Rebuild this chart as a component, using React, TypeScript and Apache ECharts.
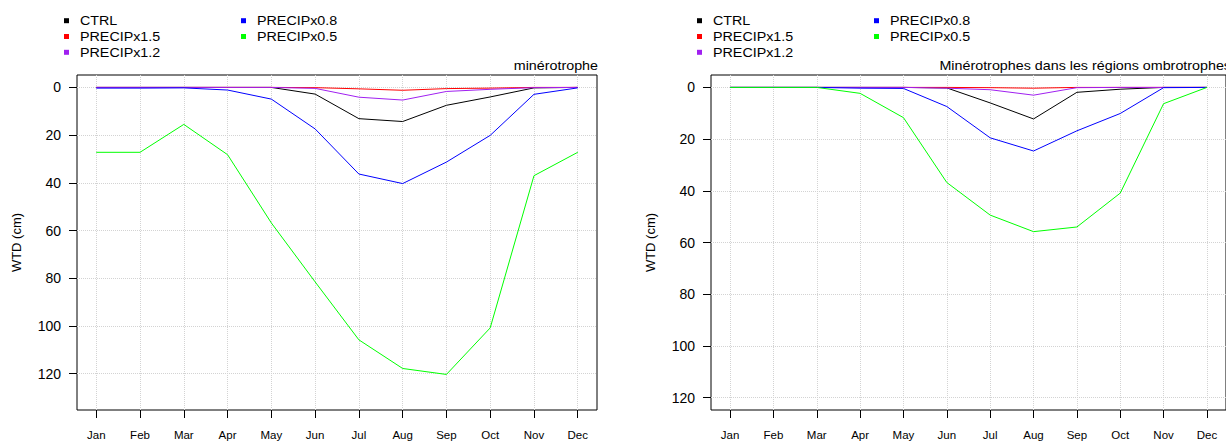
import React, { useEffect, useRef } from 'react';
import * as echarts from 'echarts';

const months = ['Jan', 'Feb', 'Mar', 'Apr', 'May', 'Jun', 'Jul', 'Aug', 'Sep', 'Oct', 'Nov', 'Dec'];
const seriesNames = ['CTRL', 'PRECIPx1.5', 'PRECIPx1.2', 'PRECIPx0.8', 'PRECIPx0.5'];
const seriesColors = ['#000000', '#ff0000', '#a020f0', '#0000ff', '#00ff00'];
const yTicks = [0, 20, 40, 60, 80, 100, 120];
const panelTitles = ['minérotrophe', 'Minérotrophes dans les régions ombrotrophes'];
const yAxisTitle = 'WTD (cm)';

// Left panel: minérotrophe
const ctrlMin = [0, 0, 0, 0, 0, 2.8, 13.1, 14.3, 7.5, 4.0, 0.2, 0];
const p15Min = [0, 0, 0, 0, 0, 0.1, 0.6, 1.2, 0.5, 0.3, 0, 0];
const p12Min = [0, 0, 0, 0, 0, 0.4, 4.1, 5.3, 1.7, 0.8, 0.1, 0];
const p08Min = [0.3, 0.3, 0.2, 1.1, 4.9, 17.4, 36.3, 40.3, 31.3, 20.1, 2.9, 0.2];
const p05Min = [27.2, 27.2, 15.5, 28.2, 56.8, 81.5, 105.8, 117.8, 120.3, 100.8, 37.0, 27.2];

// Right panel: minérotrophes dans les régions ombrotrophes
const ctrlOmb = [0, 0, 0, 0, 0, 0.2, 6.0, 12.2, 1.9, 0.7, 0, 0];
const p15Omb = [0, 0, 0, 0, 0, 0, 0.1, 0.3, 0, 0, 0, 0];
const p12Omb = [0, 0, 0, 0, 0, 0.3, 0.9, 3.0, 0.1, 0, 0, 0];
const p08Omb = [0, 0, 0, 0.3, 0.4, 7.4, 19.5, 24.6, 16.8, 10.1, 0.1, 0];
const p05Omb = [0, 0, 0, 2.3, 11.7, 36.8, 49.4, 55.8, 54.0, 40.9, 6.3, 0];

const panels = [
  { values: [ctrlMin, p15Min, p12Min, p08Min, p05Min], yMin: -5.2, yMax: 135.2 },
  { values: [ctrlOmb, p15Omb, p12Omb, p08Omb, p05Omb], yMin: -4.8, yMax: 124.8 },
];

const FONT = 'Liberation Sans, Arial, Helvetica, sans-serif';

export default function App() {
  const ref = useRef<HTMLDivElement>(null);

  useEffect(() => {
    if (!ref.current) return;
    const chart = echarts.init(ref.current, null, { renderer: 'svg' });
    const monthPos = months.map((_, i) => i + 1);

    const gridLefts = [77, 711];
    const grids = gridLefts.map((left) => ({
      left,
      top: 75,
      width: 520,
      height: 336,
      show: true,
      borderColor: '#000',
      borderWidth: 1,
      backgroundColor: 'transparent',
    }));

    const xAxes = panels.map((_, p) => ({
      type: 'value',
      gridIndex: p,
      position: 'bottom',
      min: 0.56,
      max: 12.44,
      axisLine: { show: false, onZero: false },
      axisTick: { show: true, length: 8, customValues: monthPos, lineStyle: { color: '#000' } },
      axisLabel: {
        customValues: monthPos,
        formatter: (v: number) => months[Math.round(v) - 1] ?? '',
        margin: 19,
        fontSize: 11.5,
        color: '#000',
        fontFamily: FONT,
      },
      splitLine: { show: true, lineStyle: { color: '#d3d3d3', type: 'dotted', width: 1 } },
    }));

    const yAxes = panels.map((pn, p) => ({
      type: 'value',
      gridIndex: p,
      position: 'left',
      inverse: true,
      min: pn.yMin,
      max: pn.yMax,
      name: yAxisTitle,
      nameLocation: 'middle',
      nameGap: 54,
      nameTextStyle: { fontSize: 13, color: '#000', fontFamily: FONT },
      axisLine: { show: false, onZero: false },
      axisTick: { show: true, length: 8, customValues: yTicks, lineStyle: { color: '#000' } },
      axisLabel: { customValues: yTicks, margin: 16, fontSize: 14, color: '#000', fontFamily: FONT },
      splitLine: { show: true, lineStyle: { color: '#d3d3d3', type: 'dotted', width: 1 } },
    }));

    const series: any[] = [];
    panels.forEach((pn, p) => {
      pn.values.forEach((vals, i) => {
        series.push({
          type: 'line',
          name: seriesNames[i],
          xAxisIndex: p,
          yAxisIndex: p,
          data: vals.map((v, k) => [monthPos[k], v]),
          symbol: 'none',
          silent: true,
          lineStyle: { color: seriesColors[i], width: 1 },
          itemStyle: { color: seriesColors[i] },
          z: 2 + i,
        });
      });
    });

    // legends + titles
    const graphic: any[] = [];
    const legendOffsets = [0, 633];
    const rowsY = [20.7, 36.5, 52.3];
    const colLayout = [
      { sq: 64, tx: 80, items: [0, 1, 2] },
      { sq: 241, tx: 257, items: [3, 4] },
    ];
    legendOffsets.forEach((off) => {
      colLayout.forEach((col) => {
        col.items.forEach((si, r) => {
          graphic.push({
            type: 'rect',
            shape: { x: col.sq + off, y: rowsY[r] - 2.5, width: 5, height: 5 },
            style: { fill: seriesColors[si] },
            silent: true,
          });
          graphic.push({
            type: 'text',
            x: col.tx + off,
            y: rowsY[r],
            scaleX: 1.1,
            style: {
              text: seriesNames[si],
              fontSize: 13,
              fontFamily: FONT,
              fill: '#000',
              textAlign: 'left',
              textVerticalAlign: 'middle',
            },
            silent: true,
          });
        });
      });
    });
    const titleRights = [598, 1231];
    titleRights.forEach((xr, p) => {
      graphic.push({
        type: 'text',
        x: xr,
        y: 66,
        scaleX: 1.1,
        style: {
          text: panelTitles[p],
          fontSize: 13,
          fontFamily: FONT,
          fill: '#000',
          textAlign: 'right',
          textVerticalAlign: 'middle',
        },
        silent: true,
      });
    });

    chart.setOption({
      animation: false,
      backgroundColor: '#ffffff',
      grid: grids,
      xAxis: xAxes,
      yAxis: yAxes,
      series,
      graphic,
    } as any);

    return () => chart.dispose();
  }, []);

  return (
    <div
      ref={ref}
      style={{ position: 'absolute', left: 0, top: 0, width: 1226, height: 441 }}
    />
  );
}
